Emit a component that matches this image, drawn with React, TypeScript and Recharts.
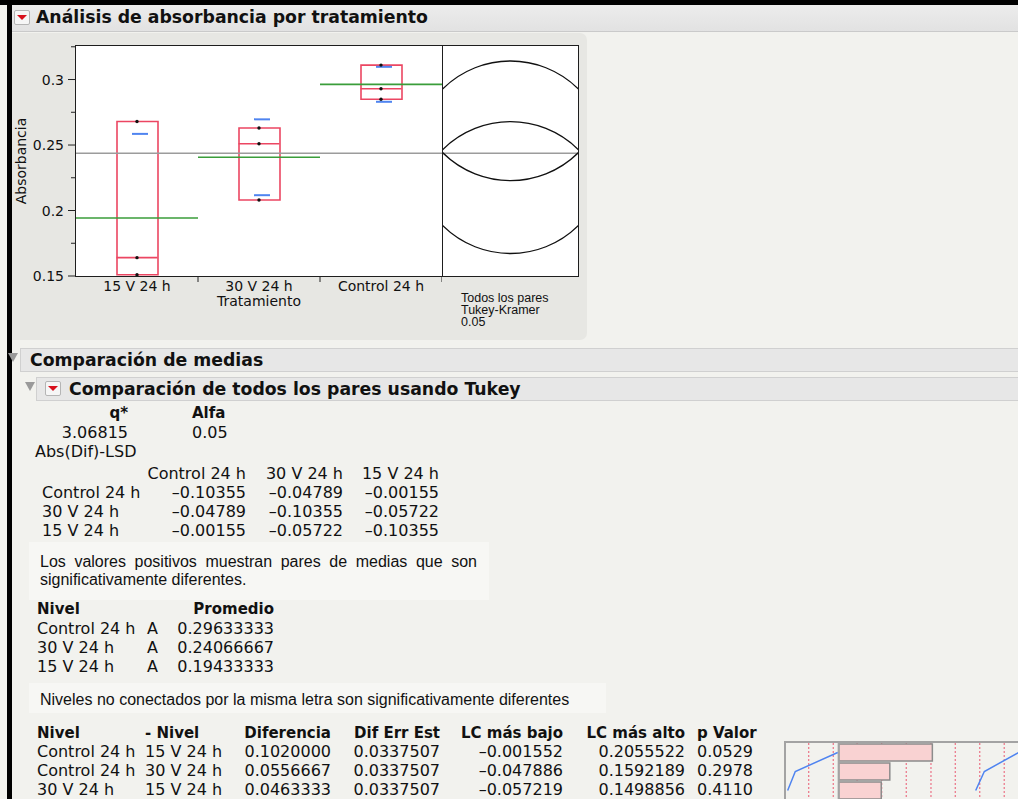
import React from 'react'
import {
  ComposedChart,
  Bar,
  Scatter,
  Line,
  XAxis,
  YAxis,
  ReferenceLine,
  CartesianGrid,
} from 'recharts'

// ---- oneway plot data ----
const groups = ['15 V 24 h', '30 V 24 h', 'Control 24 h']
const obs1 = [0.268, 0.263, 0.311]
const obs2 = [0.164, 0.251, 0.293]
const obs3 = [0.151, 0.208, 0.285]
const boxLow = [0.151, 0.208, 0.285]
const boxMedian = [0.164, 0.251, 0.293]
const boxHigh = [0.268, 0.263, 0.311]
const means = [0.19433333, 0.24066667, 0.29633333]
const sdUpper = [0.2585, 0.2696, 0.3097]
const sdLower = [null, 0.2117, 0.283]
const grandMean = 0.2438
const circleRadius = 0.0735
const yTicks = [0.15, 0.175, 0.2, 0.225, 0.25, 0.275, 0.3, 0.325]
const majorTicks = [0.15, 0.2, 0.25, 0.3]
const Y_MIN = 0.15
const Y_MAX = 0.3256

// ---- report tables ----
const qStar = 3.06815
const alpha = 0.05
const lsdLevels = ['Control 24 h', '30 V 24 h', '15 V 24 h']
const lsdRow1 = [-0.10355, -0.04789, -0.00155]
const lsdRow2 = [-0.04789, -0.10355, -0.05722]
const lsdRow3 = [-0.00155, -0.05722, -0.10355]
const meanLevels = ['Control 24 h', '30 V 24 h', '15 V 24 h']
const meanLetters = ['A', 'A', 'A']
const meanValues = [0.29633333, 0.24066667, 0.19433333]
const pairLevel = ['Control 24 h', 'Control 24 h', '30 V 24 h']
const pairMinus = ['15 V 24 h', '30 V 24 h', '15 V 24 h']
const diffs = [0.102, 0.0556667, 0.0463333]
const diffSE = [0.0337507, 0.0337507, 0.0337507]
const lowerCL = [-0.001552, -0.047886, -0.057219]
const upperCL = [0.2055522, 0.1592189, 0.1498856]
const pValues = [0.0529, 0.2978, 0.411]
const kramerNote = ['Todos los pares', 'Tukey-Kramer', alpha.toFixed(2)]

// ---- small ordered-differences chart ----
const leftTrace = [-0.0011, -0.0473, -0.0556]
const rightTrace = [0.196, 0.1586, 0.1492]
const gridValues = [-0.0327, -0.0059, 0.02, 0.0468, 0.0736, 0.1005, 0.127, 0.1536, 0.1803]
const DIFF_MIN = -0.0574
const DIFF_MAX = 0.204

const PLOT_LEFT = 76
const PLOT_TOP = 46
const PLOT_W = 366
const PLOT_H = 230
const PLOT_BOTTOM = PLOT_TOP + PLOT_H
const BAND = PLOT_W / groups.length

const RED = '#ec4662'
const GREEN = '#3a9d3a'
const BLUE = '#4f84f0'
const SANS = '"DejaVu Sans", sans-serif'
const ARIAL = '"Liberation Sans", Arial, sans-serif'

const rows = groups.map((g, i) => ({
  group: g,
  box: [boxLow[i], boxHigh[i]],
  median: boxMedian[i],
  mean: means[i],
  sdUpper: sdUpper[i],
  sdLower: sdLower[i],
  obs1: obs1[i],
  obs2: obs2[i],
  obs3: obs3[i],
}))

const circleRows = groups.map((g, i) => ({ group: g, x: 0.5, mean: means[i] }))

const pairRows = pairLevel.map((l, i) => ({
  pair: l + ' - ' + pairMinus[i],
  bar: [0, diffs[i]],
  left: leftTrace[i],
  right: rightTrace[i],
}))

const fmt = (v: number, d: number) => (v < 0 ? '\u2013' : '') + Math.abs(v).toFixed(d)

const hLine = (half: number, shift: number, color: string, w: number) => (p: any) => {
  if (p.cy == null || isNaN(p.cy)) return <g />
  return <line x1={p.cx - half + shift} x2={p.cx + half + shift} y1={p.cy} y2={p.cy} stroke={color} strokeWidth={w} />
}

const dot = (p: any) => <circle cx={p.cx} cy={p.cy} r={1.7} fill="#111" />

const circleShape = (p: any) => (
  <circle
    cx={p.cx}
    cy={p.cy}
    r={(circleRadius * PLOT_H) / (Y_MAX - Y_MIN)}
    fill="none"
    stroke="#111"
    strokeWidth={1.3}
  />
)

// dotted grid of the small chart, placed through the x axis scale
const gridX = (props: any) => {
  const axis = props && props.xAxis
  if (axis && typeof axis.scale === 'function') return gridValues.map((v) => axis.scale(v))
  const off = (props && props.offset) || { left: 0, width: 240 }
  return gridValues.map((v) => off.left + ((v - DIFF_MIN) / (DIFF_MAX - DIFF_MIN)) * off.width)
}

function YTick(props: any) {
  const { y, payload } = props
  const major = majorTicks.includes(payload.value)
  return (
    <g>
      <line x1={PLOT_LEFT - (major ? 8 : 5)} x2={PLOT_LEFT} y1={y} y2={y} stroke="#222" />
      {major && (
        <text x={PLOT_LEFT - 12} y={y} textAnchor="end" dominantBaseline="central" fontSize={14} fill="#111" fontFamily={SANS}>
          {String(payload.value)}
        </text>
      )}
    </g>
  )
}

function XTick(props: any) {
  const { x, payload } = props
  return (
    <g>
      <line x1={x + BAND / 2} x2={x + BAND / 2} y1={PLOT_BOTTOM} y2={PLOT_BOTTOM + 6} stroke="#222" />
      <text x={x} y={PLOT_BOTTOM + 15} textAnchor="middle" fontSize={14} fill="#111" fontFamily={SANS}>
        {payload.value}
      </text>
    </g>
  )
}

type TP = { x: number; y: number; children: React.ReactNode; bold?: boolean; size?: number; right?: boolean; font?: string }
function T({ x, y, children, bold, size = 16, right, font }: TP) {
  return (
    <div
      style={{
        position: 'absolute',
        left: x,
        top: y - 10,
        height: 20,
        lineHeight: '20px',
        fontSize: size,
        fontWeight: bold ? 'bold' : 'normal',
        whiteSpace: 'nowrap',
        transform: right ? 'translateX(-100%)' : undefined,
        fontFamily: font,
      }}
    >
      {children}
    </div>
  )
}

function RedIcon({ x, y }: { x: number; y: number }) {
  return (
    <div style={{ position: 'absolute', left: x, top: y, width: 14, height: 13, border: '1px solid #b5b5b5', background: '#f6f6f6', borderRadius: 2 }}>
      <div style={{ position: 'absolute', left: 2, top: 4, width: 0, height: 0, borderLeft: '5px solid transparent', borderRight: '5px solid transparent', borderTop: '5px solid #d8101c' }} />
    </div>
  )
}

function GrayTri({ x, y }: { x: number; y: number }) {
  return (
    <div style={{ position: 'absolute', left: x, top: y, width: 0, height: 0, borderLeft: '5px solid transparent', borderRight: '5px solid transparent', borderTop: '9px solid #9a9a9a' }} />
  )
}

export default function App() {
  return (
    <div style={{ position: 'absolute', left: 0, top: 0, width: 1018, height: 799, overflow: 'hidden', background: '#f2f2ee', fontFamily: SANS, color: '#111' }}>
      {/* window edges */}
      <div style={{ position: 'absolute', left: 0, top: 0, width: 1018, height: 5, background: '#000' }} />
      <div style={{ position: 'absolute', left: 7, top: 0, width: 5, height: 799, background: '#000' }} />

      {/* title bar */}
      <div style={{ position: 'absolute', left: 12, top: 5, width: 1006, height: 26, background: 'linear-gradient(#ececec, #e2e2e2)', borderBottom: '1px solid #cacaca' }} />
      <RedIcon x={14} y={10} />
      <T x={36} y={17} bold size={17.3}>Análisis de absorbancia por tratamiento</T>

      {/* plot panel */}
      <div style={{ position: 'absolute', left: 12, top: 33, width: 575, height: 307, background: '#e7e7e3', borderRadius: '0 7px 7px 0' }} />
      <div style={{ position: 'absolute', left: 75, top: 45, width: 502, height: 230, background: '#fff', border: '1px solid #1e1e1e' }} />
      <div style={{ position: 'absolute', left: 442, top: 46, width: 1, height: 230, background: '#1e1e1e' }} />

      <div style={{ position: 'absolute', left: 0, top: 0 }}>
        <ComposedChart
          width={PLOT_LEFT + PLOT_W}
          height={PLOT_BOTTOM + 40}
          data={rows}
          margin={{ top: PLOT_TOP, right: 0, bottom: 0, left: 20 }}
        >
          <XAxis
            dataKey="group"
            height={40}
            axisLine={false}
            tickLine={false}
            interval={0}
            tick={<XTick />}
            label={({ viewBox }: any) => (
              <text x={viewBox.x + viewBox.width / 2} y={viewBox.y + 30} textAnchor="middle" fontSize={14} fill="#111" fontFamily={SANS}>
                Tratamiento
              </text>
            )}
          />
          <YAxis
            type="number"
            domain={[Y_MIN, Y_MAX]}
            ticks={yTicks}
            width={56}
            allowDataOverflow
            axisLine={false}
            tickLine={false}
            tick={<YTick />}
            label={({ viewBox }: any) => (
              <text
                transform={`translate(${viewBox.x + 0.5}, ${viewBox.y + viewBox.height / 2}) rotate(-90)`}
                textAnchor="middle"
                dominantBaseline="central"
                fontSize={14}
                fill="#111"
                fontFamily={SANS}
              >
                Absorbancia
              </text>
            )}
          />
          <ReferenceLine y={grandMean} stroke="#9c9c9c" strokeWidth={1.5} />
          <Bar dataKey="box" barSize={41} fill="none" stroke={RED} strokeWidth={1.6} isAnimationActive={false} />
          <Scatter dataKey="median" shape={hLine(20.5, 0, RED, 1.6)} isAnimationActive={false} />
          <Scatter dataKey="mean" shape={hLine(BAND / 2, 0, GREEN, 1.6)} isAnimationActive={false} />
          <Scatter dataKey="sdUpper" shape={hLine(8, 3, BLUE, 2)} isAnimationActive={false} />
          <Scatter dataKey="sdLower" shape={hLine(8, 3, BLUE, 2)} isAnimationActive={false} />
          <Scatter dataKey="obs1" shape={dot} isAnimationActive={false} />
          <Scatter dataKey="obs2" shape={dot} isAnimationActive={false} />
          <Scatter dataKey="obs3" shape={dot} isAnimationActive={false} />
        </ComposedChart>
      </div>

      {/* comparison circles */}
      <div style={{ position: 'absolute', left: 443, top: PLOT_TOP, width: 135, height: PLOT_H, overflow: 'hidden' }}>
        <ComposedChart width={135} height={PLOT_H} data={circleRows} margin={{ top: 0, right: 0, bottom: 0, left: 0 }}>
          <XAxis type="number" dataKey="x" domain={[0, 1]} hide />
          <YAxis type="number" domain={[Y_MIN, Y_MAX]} hide allowDataOverflow />
          <ReferenceLine y={grandMean} stroke="#9c9c9c" strokeWidth={1.5} />
          <Scatter dataKey="mean" shape={circleShape} isAnimationActive={false} />
        </ComposedChart>
      </div>

      {kramerNote.map((s, i) => (
        <div key={s} style={{ position: 'absolute', left: 461, top: 292 + i * 12, height: 12, fontFamily: ARIAL, fontSize: 12.5, lineHeight: '12px', whiteSpace: 'nowrap' }}>
          {s}
        </div>
      ))}

      {/* Comparación de medias */}
      <div style={{ position: 'absolute', left: 20, top: 348, width: 998, height: 22, background: '#e7e7e7', border: '1px solid #d0d0d0' }} />
      <GrayTri x={8} y={353} />
      <T x={30} y={359.5} bold size={17.3}>Comparación de medias</T>

      <div style={{ position: 'absolute', left: 36, top: 377, width: 982, height: 22, background: '#e7e7e7', border: '1px solid #d0d0d0' }} />
      <GrayTri x={25} y={382} />
      <RedIcon x={45} y={381} />
      <T x={69} y={388.5} bold size={17.3}>Comparación de todos los pares usando Tukey</T>

      <T x={128} y={413} bold size={15} right>q*</T>
      <T x={192} y={413} bold size={15}>Alfa</T>
      <T x={128} y={433} right>{qStar.toFixed(5)}</T>
      <T x={192} y={433}>{alpha.toFixed(2)}</T>
      <T x={35} y={452}>Abs(Dif)-LSD</T>

      {lsdLevels.map((l, j) => (
        <T key={'h' + l} x={[246, 343, 439][j]} y={474} right>{l}</T>
      ))}
      {[lsdRow1, lsdRow2, lsdRow3].map((r, i) => (
        <React.Fragment key={'r' + i}>
          <T x={42} y={493 + i * 19}>{lsdLevels[i]}</T>
          {r.map((v, j) => (
            <T key={j} x={[246, 343, 439][j]} y={493 + i * 19} right>{fmt(v, 5)}</T>
          ))}
        </React.Fragment>
      ))}

      <div style={{ position: 'absolute', left: 29, top: 542, width: 460, height: 58, background: '#f7f7f4' }} />
      <div style={{ position: 'absolute', left: 40, top: 553, width: 437, fontFamily: ARIAL, fontSize: 16, lineHeight: '18px', textAlign: 'justify' }}>
        Los valores positivos muestran pares de medias que son significativamente diferentes.
      </div>

      <T x={37} y={609} bold size={15}>Nivel</T>
      <T x={274} y={609} bold size={15} right>Promedio</T>
      {meanLevels.map((l, i) => (
        <React.Fragment key={'m' + i}>
          <T x={37} y={629 + i * 19}>{l}</T>
          <T x={147} y={629 + i * 19}>{meanLetters[i]}</T>
          <T x={274} y={629 + i * 19} right>{meanValues[i].toFixed(8)}</T>
        </React.Fragment>
      ))}

      <div style={{ position: 'absolute', left: 29, top: 683, width: 577, height: 30, background: '#f7f7f4' }} />
      <T x={40} y={700} font={ARIAL}>Niveles no conectados por la misma letra son significativamente diferentes</T>

      <T x={37} y={733} bold size={15}>Nivel</T>
      <T x={145} y={733} bold size={15}>- Nivel</T>
      <T x={331} y={733} bold size={15} right>Diferencia</T>
      <T x={440} y={733} bold size={15} right>Dif Err Est</T>
      <T x={563} y={733} bold size={15} right>LC más bajo</T>
      <T x={685} y={733} bold size={15} right>LC más alto</T>
      <T x={697} y={733} bold size={15}>p Valor</T>
      {pairLevel.map((l, i) => (
        <React.Fragment key={'d' + i}>
          <T x={37} y={752 + i * 19}>{l}</T>
          <T x={145} y={752 + i * 19}>{pairMinus[i]}</T>
          <T x={331} y={752 + i * 19} right>{diffs[i].toFixed(7)}</T>
          <T x={440} y={752 + i * 19} right>{diffSE[i].toFixed(7)}</T>
          <T x={563} y={752 + i * 19} right>{fmt(lowerCL[i], 6)}</T>
          <T x={685} y={752 + i * 19} right>{fmt(upperCL[i], 7)}</T>
          <T x={697} y={752 + i * 19}>{pValues[i].toFixed(4)}</T>
        </React.Fragment>
      ))}

      {/* ordered differences mini chart */}
      <div style={{ position: 'absolute', left: 784, top: 741, width: 240, height: 70, borderTop: '2px solid #a3a3a3', borderLeft: '2px solid #a3a3a3' }} />
      <div style={{ position: 'absolute', left: 786, top: 743 }}>
        <ComposedChart
          layout="vertical"
          width={240}
          height={57}
          data={pairRows}
          margin={{ top: 0, right: 0, bottom: 0, left: 0 }}
          barCategoryGap={1}
        >
          <CartesianGrid horizontal={false} verticalCoordinatesGenerator={gridX} stroke="#ec7c8e" strokeWidth={1.3} strokeDasharray="2 2" />
          <XAxis type="number" domain={[DIFF_MIN, DIFF_MAX]} hide allowDataOverflow />
          <YAxis type="category" dataKey="pair" hide />
          <Bar dataKey="bar" fill="#f9d2d2" stroke="#8c8c8c" strokeWidth={1.5} isAnimationActive={false} />
          <ReferenceLine x={0} stroke="#a3a3a3" strokeWidth={2} />
          <Line dataKey="left" stroke={BLUE} strokeWidth={1.5} dot={false} isAnimationActive={false} />
          <Line dataKey="right" stroke={BLUE} strokeWidth={1.5} dot={false} isAnimationActive={false} />
        </ComposedChart>
      </div>
    </div>
  )
}
